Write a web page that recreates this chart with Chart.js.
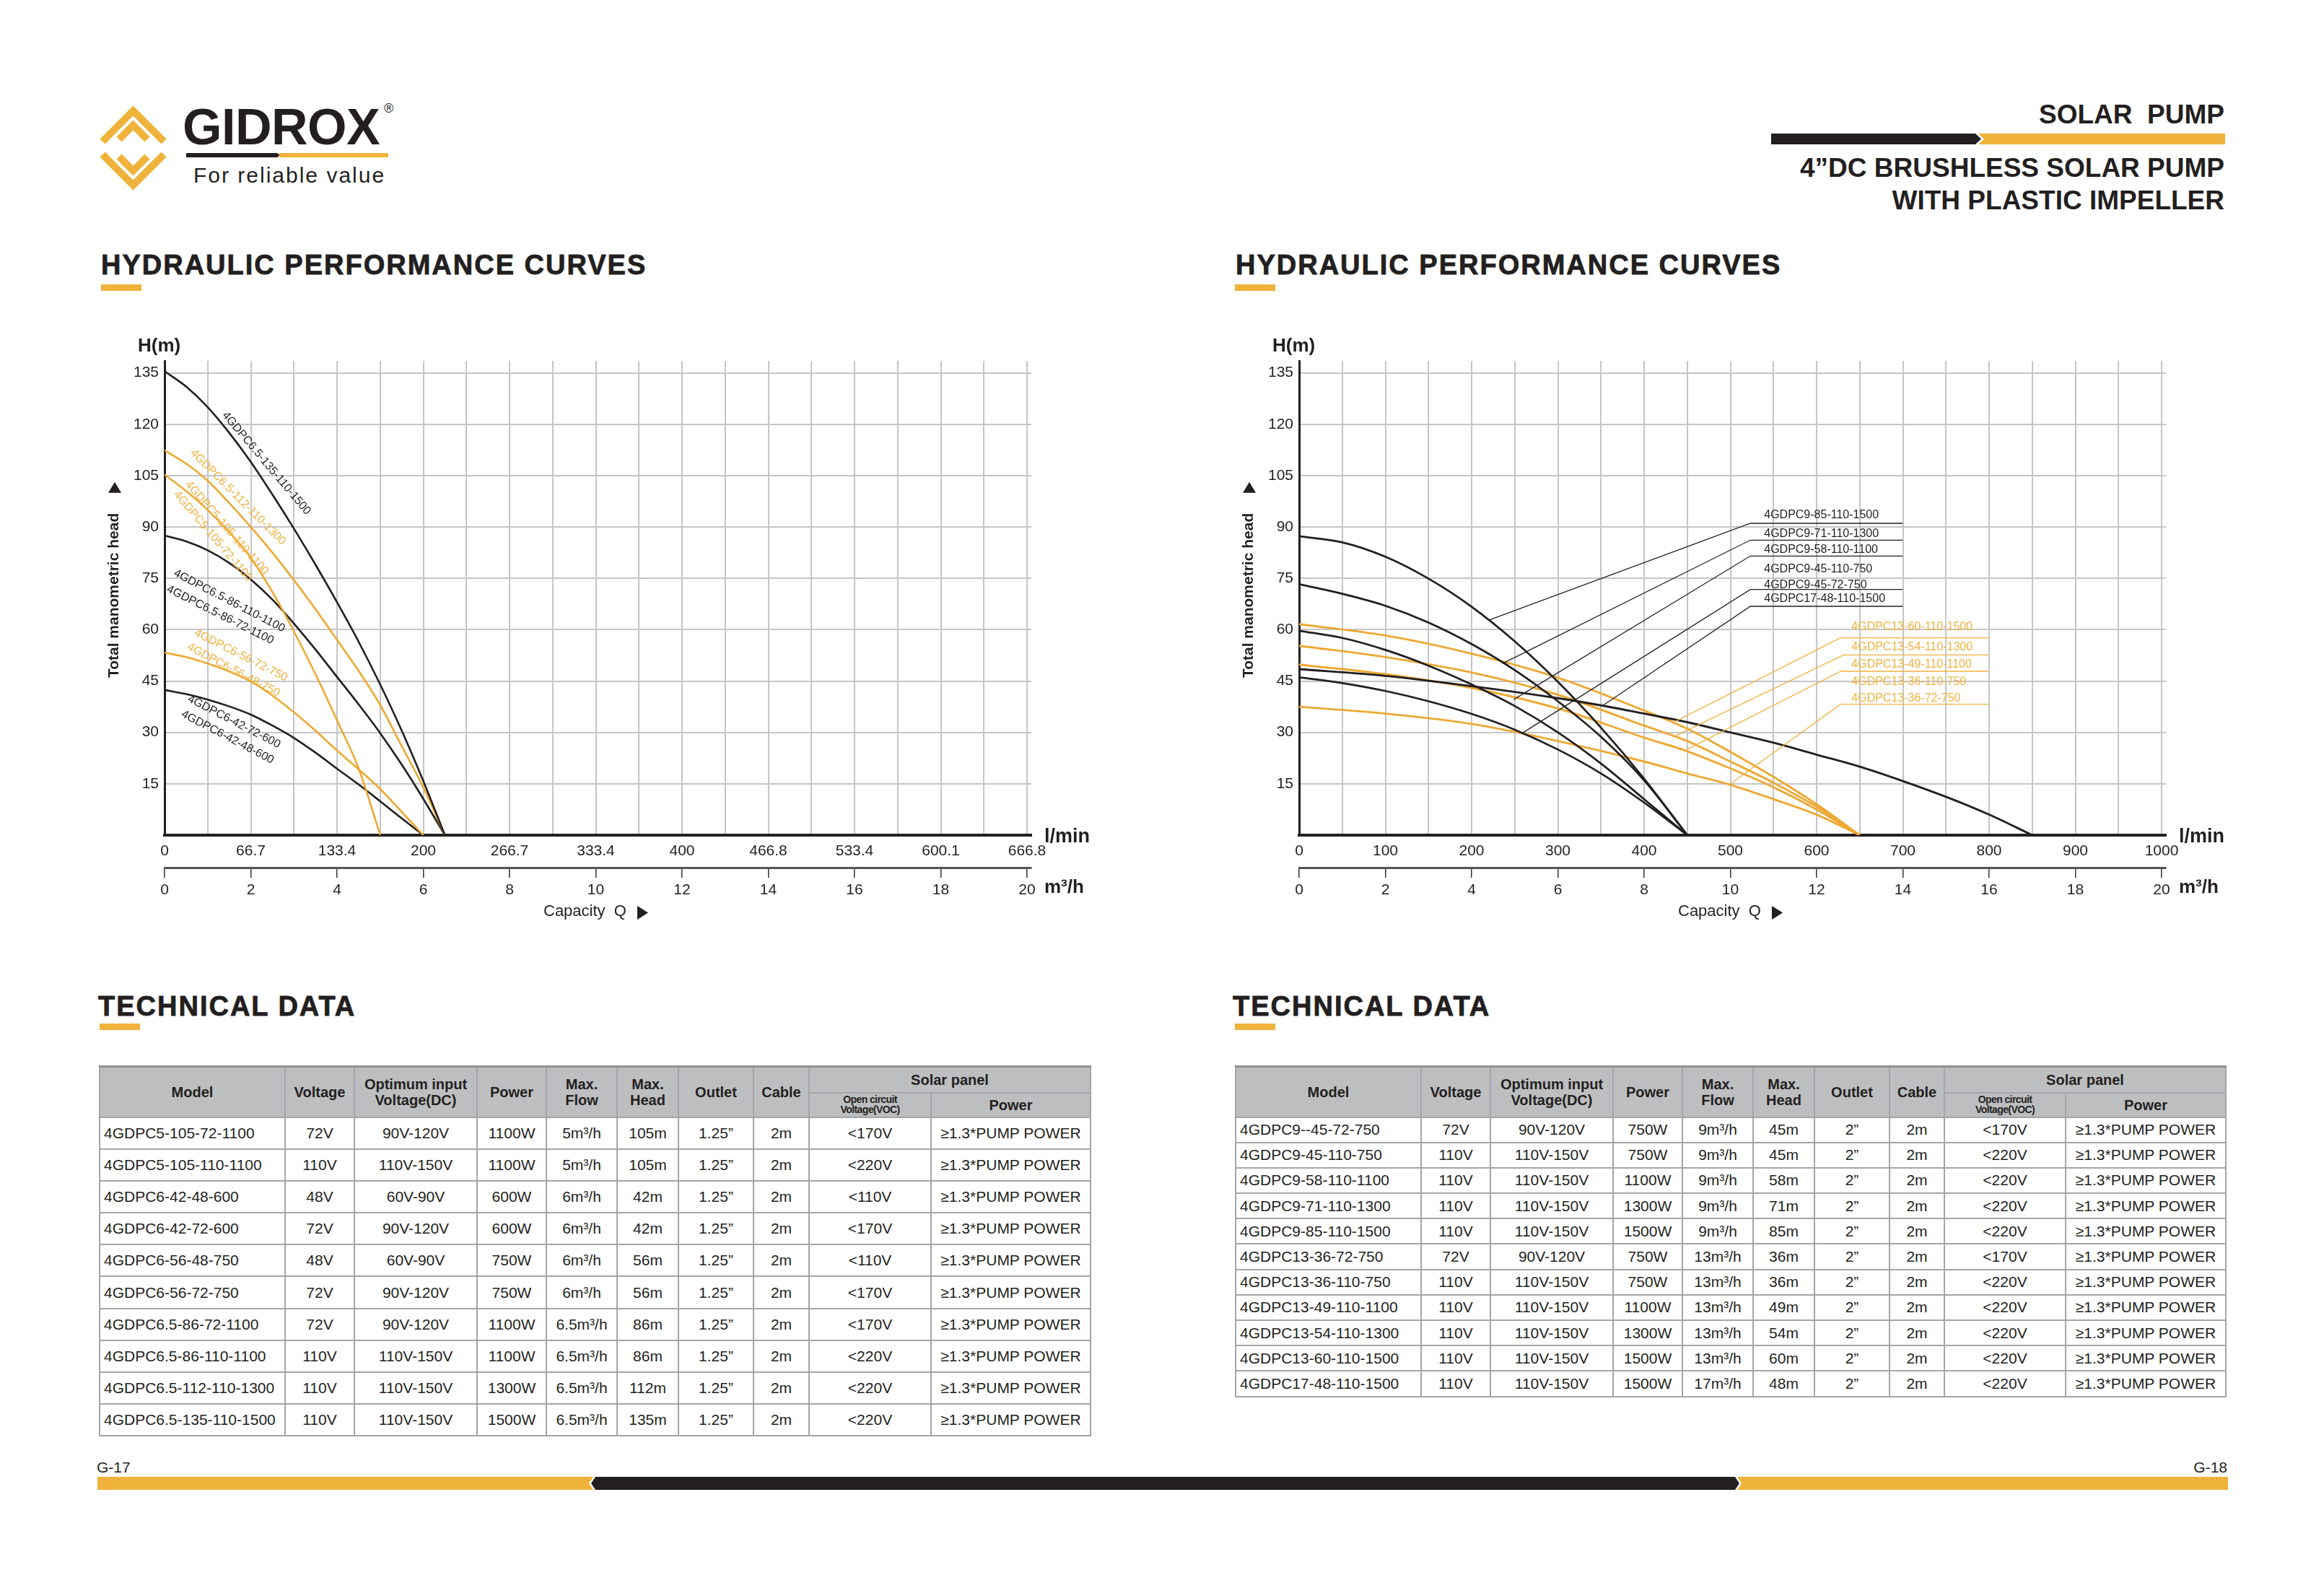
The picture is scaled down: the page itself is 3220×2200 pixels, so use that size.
<!DOCTYPE html>
<html><head><meta charset="utf-8">
<script src="https://cdn.jsdelivr.net/npm/chart.js@4.4.1/dist/chart.umd.min.js"></script>
<style>
html,body{margin:0;padding:0;background:#fff;}
body{width:3220px;height:2200px;position:relative;overflow:hidden;font-family:'Liberation Sans',Arial,Helvetica,sans-serif;color:#231F20;}
.t{position:absolute;white-space:pre;line-height:1;}
.b{font-weight:bold;}
.ttl{font-size:38px;font-weight:bold;letter-spacing:2px;-webkit-text-stroke:0.8px #231F20;}
.bar{position:absolute;background:#EFB23A;}
canvas{position:absolute;}
table.td{position:absolute;border-collapse:collapse;table-layout:fixed;font-size:21px;color:#231F20;border-top:3px solid #8E9093;}
table.td th{background:#BDBEC0;font-weight:bold;font-size:20px;border:2px solid #A3A5A8;padding:0;line-height:1.1;text-align:center;}
table.td th.sm{font-size:14px;line-height:0.95;letter-spacing:-0.6px;}
table.td td{border:2px solid #A3A5A8;text-align:center;padding:0;white-space:nowrap;overflow:hidden;}
table.td td.m{text-align:left;padding-left:5px;}
</style></head><body>

<!-- logo -->
<svg style="position:absolute;left:130px;top:140px" width="110" height="130" viewBox="130 140 110 130">
 <g fill="none" stroke="#EFB23A" stroke-width="10" stroke-linejoin="miter">
  <polyline points="142,196 184.5,153.5 227,196"/>
  <polyline points="142,214 184.5,256.5 227,214"/>
  <polyline points="165,193 184.5,173.5 204,193"/>
  <polyline points="165,217 184.5,236.5 204,217"/>
 </g>
</svg>
<div class="t b" style="left:253px;top:140.7px;font-size:70px;letter-spacing:-0.5px;">GIDROX</div>
<div class="t" style="left:532px;top:141px;font-size:18px;">®</div>
<div style="position:absolute;left:258px;top:212px;width:130px;height:6px;background:#231F20;clip-path:polygon(0 0,calc(100% - 4px) 0,100% 50%,calc(100% - 4px) 100%,0 100%);"></div>
<div class="bar" style="left:387px;top:212px;width:151px;height:6px;"></div>
<div class="t" style="left:268px;top:227.6px;font-size:30px;letter-spacing:2px;">For reliable value</div>

<!-- header right -->
<div class="t b" style="right:138px;top:140.4px;font-size:37px;">SOLAR  PUMP</div>
<div style="position:absolute;left:2454px;top:185px;width:291px;height:15px;background:#231F20;clip-path:polygon(0 0,calc(100% - 8px) 0,100% 50%,calc(100% - 8px) 100%,0 100%);"></div>
<div class="bar" style="left:2741px;top:185px;width:342px;height:15px;clip-path:polygon(0 0,100% 0,100% 100%,0 100%,8px 50%);"></div>
<div class="t b" style="right:138px;top:213.7px;font-size:37px;">4”DC BRUSHLESS SOLAR PUMP</div>
<div class="t b" style="right:138px;top:258.7px;font-size:37px;">WITH PLASTIC IMPELLER</div>

<!-- section titles -->
<div class="t ttl" style="left:140px;top:347.8px;">HYDRAULIC PERFORMANCE CURVES</div>
<div class="bar" style="left:140px;top:394px;width:56px;height:9px;"></div>
<div class="t ttl" style="left:1712px;top:347.8px;">HYDRAULIC PERFORMANCE CURVES</div>
<div class="bar" style="left:1711px;top:394px;width:56px;height:9px;"></div>

<div class="t ttl" style="left:136px;top:1374.8px;">TECHNICAL DATA</div>
<div class="bar" style="left:138px;top:1418px;width:56px;height:9px;"></div>
<div class="t ttl" style="left:1708px;top:1374.8px;">TECHNICAL DATA</div>
<div class="bar" style="left:1711px;top:1418px;width:56px;height:9px;"></div>

<canvas id="cl" width="1420" height="860" style="left:130px;top:440px;width:1420px;height:860px;"></canvas>
<canvas id="cr" width="1420" height="860" style="left:1702px;top:440px;width:1420px;height:860px;"></canvas>

<table class="td" id="tl" style="left:137px;top:1476px;width:1373px;"></table>
<table class="td" id="tr" style="left:1711px;top:1476px;width:1372px;"></table>

<!-- footer -->
<div class="t" style="left:134px;top:2022.2px;font-size:21px;">G-17</div>
<div class="t" style="right:134px;top:2022.2px;font-size:21px;">G-18</div>
<div class="bar" style="left:135px;top:2046px;width:687px;height:18px;clip-path:polygon(0 0,100% 0,calc(100% - 6px) 50%,100% 100%,0 100%);"></div>
<div style="position:absolute;left:819px;top:2046px;width:1591px;height:18px;background:#231F20;clip-path:polygon(6px 0,calc(100% - 6px) 0,100% 50%,calc(100% - 6px) 100%,6px 100%,0 50%);"></div>
<div class="bar" style="left:2407px;top:2046px;width:680px;height:18px;clip-path:polygon(0 0,100% 0,100% 100%,0 100%,6px 50%);"></div>

<script>
// ---------------- DATA ----------------
// Left chart: capacity in m3/h, head in m
const L_Q_65 = [0,0.5,1,1.5,2,2.5,3,3.5,4,4.5,5,5.5,6,6.5];
const L_H_135 = [135.5,131,125,117.5,109,99.5,89.5,79,68,56.5,44,30.5,15.8,0];
const L_H_112 = [112.4,108.5,103.5,97,90,82.5,74.5,66,57,48,38,26,14,0];
const L_H_86  = [87.5,85.8,83.2,79.5,74.7,68.8,61.8,54.2,46.2,38.2,29.8,20.6,10.6,0];
const L_Q_5 = [0,0.5,1,1.5,2,2.5,3,3.5,4,4.5,5];
const L_H_105 = [105.3,100.5,95,88.5,81,71,59.5,47,33.5,19.5,0];
const L_Q_6 = [0,0.5,1,1.5,2,2.5,3,3.5,4,4.5,5,5.5,6];
const L_H_56 = [53.3,52,50.1,47.8,44.9,40.8,35.9,30.5,24.7,19.2,13.5,6.8,0];
const L_H_42 = [42.4,41.2,39.6,37.6,35.2,32,28.4,24.1,19.4,14.8,9.9,4.9,0];

// Right chart: capacity in l/min, head in m
const R_Q_9 = [0,50,100,150,200,250,300,350,400,450];
const R_H_9_85 = [87.3,85.5,81.3,74.9,66.7,56.6,44.8,31.4,16.5,0];
const R_H_9_71 = [73.3,70.5,67,62.1,55.8,48.2,39.1,28.7,16,0];
const R_H_9_58 = [59.7,57.6,54.1,49.5,44,37.7,30,20.9,10.5,0];
const R_H_9_45 = [46.1,44.4,42.1,39.1,35.4,30.8,25,18,9.5,0];
const R_Q_17 = [0,100,200,300,350,400,450,500,550,600,650,700,750,800,850];
const R_H_17_48 = [48.5,46.5,43.5,40,37.9,35.5,33,30,27,23.5,20,15.8,11.2,6,0];
const R_Q_13 = [0,100,200,300,400,450,500,550,600,650];
const R_H_13_60 = [61.6,58.3,53,46,36.4,31.1,24.3,17,9,0];
const R_H_13_54 = [55.3,52,47.5,41,32,27.5,21.5,15.3,8.3,0];
const R_H_13_49 = [49.8,47,43,37,28.5,24.5,19.5,14,7.5,0];
const R_H_13_36 = [37.5,35.5,32.5,27.5,21.5,18,14.7,10.5,6,0];

// Tick labels
const HEAD_TICKS = [15,30,45,60,75,90,105,120,135];
const LEFT_FLOW_LABELS = ['0','66.7','133.4','200','266.7','333.4','400','466.8','533.4','600.1','666.8'];
const RIGHT_FLOW_LABELS = ['0','100','200','300','400','500','600','700','800','900','1000'];
const M3H_LABELS = ['0','2','4','6','8','10','12','14','16','18','20'];

// Model names
const LEFT_MODELS = ['4GDPC6.5-135-110-1500','4GDPC6.5-112-110-1300','4GDPC5-105-110-1100','4GDPC5-105-72-1100',
  '4GDPC6.5-86-110-1100','4GDPC6.5-86-72-1100','4GDPC6-56-72-750','4GDPC6-56-48-750','4GDPC6-42-72-600','4GDPC6-42-48-600'];
const RIGHT_BLACK_MODELS = ['4GDPC9-85-110-1500','4GDPC9-71-110-1300','4GDPC9-58-110-1100','4GDPC9-45-110-750','4GDPC9-45-72-750','4GDPC17-48-110-1500'];
const RIGHT_ORANGE_MODELS = ['4GDPC13-60-110-1500','4GDPC13-54-110-1300','4GDPC13-49-110-1100','4GDPC13-36-110-750','4GDPC13-36-72-750'];

// Technical data tables
const TL_ROWS = [
 ['4GDPC5-105-72-1100','72V','90V-120V','1100W','5m³/h','105m','1.25”','2m','<170V','≥1.3*PUMP POWER'],
 ['4GDPC5-105-110-1100','110V','110V-150V','1100W','5m³/h','105m','1.25”','2m','<220V','≥1.3*PUMP POWER'],
 ['4GDPC6-42-48-600','48V','60V-90V','600W','6m³/h','42m','1.25”','2m','<110V','≥1.3*PUMP POWER'],
 ['4GDPC6-42-72-600','72V','90V-120V','600W','6m³/h','42m','1.25”','2m','<170V','≥1.3*PUMP POWER'],
 ['4GDPC6-56-48-750','48V','60V-90V','750W','6m³/h','56m','1.25”','2m','<110V','≥1.3*PUMP POWER'],
 ['4GDPC6-56-72-750','72V','90V-120V','750W','6m³/h','56m','1.25”','2m','<170V','≥1.3*PUMP POWER'],
 ['4GDPC6.5-86-72-1100','72V','90V-120V','1100W','6.5m³/h','86m','1.25”','2m','<170V','≥1.3*PUMP POWER'],
 ['4GDPC6.5-86-110-1100','110V','110V-150V','1100W','6.5m³/h','86m','1.25”','2m','<220V','≥1.3*PUMP POWER'],
 ['4GDPC6.5-112-110-1300','110V','110V-150V','1300W','6.5m³/h','112m','1.25”','2m','<220V','≥1.3*PUMP POWER'],
 ['4GDPC6.5-135-110-1500','110V','110V-150V','1500W','6.5m³/h','135m','1.25”','2m','<220V','≥1.3*PUMP POWER']];
const TR_ROWS = [
 ['4GDPC9--45-72-750','72V','90V-120V','750W','9m³/h','45m','2”','2m','<170V','≥1.3*PUMP POWER'],
 ['4GDPC9-45-110-750','110V','110V-150V','750W','9m³/h','45m','2”','2m','<220V','≥1.3*PUMP POWER'],
 ['4GDPC9-58-110-1100','110V','110V-150V','1100W','9m³/h','58m','2”','2m','<220V','≥1.3*PUMP POWER'],
 ['4GDPC9-71-110-1300','110V','110V-150V','1300W','9m³/h','71m','2”','2m','<220V','≥1.3*PUMP POWER'],
 ['4GDPC9-85-110-1500','110V','110V-150V','1500W','9m³/h','85m','2”','2m','<220V','≥1.3*PUMP POWER'],
 ['4GDPC13-36-72-750','72V','90V-120V','750W','13m³/h','36m','2”','2m','<170V','≥1.3*PUMP POWER'],
 ['4GDPC13-36-110-750','110V','110V-150V','750W','13m³/h','36m','2”','2m','<220V','≥1.3*PUMP POWER'],
 ['4GDPC13-49-110-1100','110V','110V-150V','1100W','13m³/h','49m','2”','2m','<220V','≥1.3*PUMP POWER'],
 ['4GDPC13-54-110-1300','110V','110V-150V','1300W','13m³/h','54m','2”','2m','<220V','≥1.3*PUMP POWER'],
 ['4GDPC13-60-110-1500','110V','110V-150V','1500W','13m³/h','60m','2”','2m','<220V','≥1.3*PUMP POWER'],
 ['4GDPC17-48-110-1500','110V','110V-150V','1500W','17m³/h','48m','2”','2m','<220V','≥1.3*PUMP POWER']];

// ---------------- STYLE ----------------
const INK = '#231F20', ORANGE = '#EDA933', LABEL_OR = '#EFB23F', GRID = '#C4C5C8';
const FONT = "'Liberation Sans', Arial, Helvetica, sans-serif";
Chart.defaults.font.family = FONT;
Chart.defaults.color = INK;

const pts = (q, h) => q.map((v, i) => ({x: v, y: h[i]}));
const curve = (q, h, color, w) => ({data: pts(q, h), borderColor: color, borderWidth: w, pointRadius: 0,
  fill: false, cubicInterpolationMode: 'monotone', xAxisID: 'x', yAxisID: 'y'});

// annotation layout (data-space anchors for labels)
const LEFT_LABEL_LAYOUT = [
 {x:2.36,y:108.6,a:49.8,c:INK},{x:1.70,y:98.7,a:45.1,c:LABEL_OR},{x:1.44,y:89.7,a:49,c:LABEL_OR},{x:1.12,y:87.3,a:49.5,c:LABEL_OR},
 {x:1.50,y:68.4,a:27.4,c:INK},{x:1.29,y:64.3,a:26.6,c:INK},{x:1.77,y:52.5,a:26.9,c:LABEL_OR},{x:1.60,y:48.2,a:27.6,c:LABEL_OR},
 {x:1.61,y:33.1,a:27.3,c:INK},{x:1.46,y:28.6,a:27.6,c:INK}];
const RB_TEXT_Y = [92.48,87.06,82.43,76.67,72.10,68.09];
const RO_TEXT_Y = [59.81,53.97,48.91,43.78,38.94];
const RB_LEADERS = [[220,62.8,91.07],[235.6,50.1,86.16],[248.8,39.6,81.52],[258.7,29.8,71.74],[352.3,37.9,66.83]];
const RO_LEADERS = [[433,32.8,57.61,627.8],[435.8,28.9,52.64,631.2],[449.5,25,47.85,627.8],[499,14.8,38.22,627.8]];

const decor = {
  id: 'decor',
  afterDatasetsDraw(chart, args, o) {
    const ctx = chart.ctx, xs = chart.scales.x, ys = chart.scales.y;
    ctx.save();
    (o.leaders || []).forEach(L => {
      ctx.beginPath(); ctx.strokeStyle = L.color; ctx.lineWidth = 1.3;
      L.pts.forEach((p, i) => { const X = xs.getPixelForValue(p[0]), Y = ys.getPixelForValue(p[1]); i ? ctx.lineTo(X, Y) : ctx.moveTo(X, Y); });
      ctx.stroke();
    });
    ctx.font = '16px ' + FONT; ctx.textAlign = 'left'; ctx.textBaseline = 'alphabetic';
    (o.flat || []).forEach(t => { ctx.fillStyle = t.color; ctx.fillText(t.text, xs.getPixelForValue(t.x), ys.getPixelForValue(t.y)); });
    ctx.textAlign = 'center'; ctx.textBaseline = 'middle';
    (o.rotated || []).forEach(t => {
      ctx.save(); ctx.translate(xs.getPixelForValue(t.x), ys.getPixelForValue(t.y)); ctx.rotate(t.angle * Math.PI / 180);
      ctx.fillStyle = t.color; ctx.fillText(t.text, 0, 0); ctx.restore();
    });
    ctx.restore();
  },
  afterDraw(chart) {
    const ctx = chart.ctx, a = chart.chartArea, ys = chart.scales.y;
    ctx.save(); ctx.fillStyle = INK; ctx.textBaseline = 'alphabetic'; ctx.textAlign = 'left';
    ctx.font = 'bold 26px ' + FONT; ctx.fillText('H(m)', a.left - 37, a.top - 13);
    ctx.font = 'bold 27px ' + FONT; ctx.fillText('l/min', a.right + 18, a.bottom + 10);
    ctx.font = 'bold 26px ' + FONT; ctx.fillText('m³/h', a.right + 18, a.bottom + 80);
    ctx.font = '22px ' + FONT; ctx.fillText('Capacity  Q', a.left + 525, a.bottom + 112);
    ctx.beginPath(); ctx.moveTo(a.left + 655, a.bottom + 98); ctx.lineTo(a.left + 670, a.bottom + 107.5); ctx.lineTo(a.left + 655, a.bottom + 117); ctx.closePath(); ctx.fill();
    ctx.save(); ctx.translate(a.left - 64, ys.getPixelForValue(70)); ctx.rotate(-Math.PI / 2);
    ctx.font = 'bold 21px ' + FONT; ctx.textAlign = 'center'; ctx.fillText('Total manometric head', 0, 0); ctx.restore();
    const ty = ys.getPixelForValue(100);
    ctx.beginPath(); ctx.moveTo(a.left - 78, ty); ctx.lineTo(a.left - 60, ty); ctx.lineTo(a.left - 69, ty - 15); ctx.closePath(); ctx.fill();
    ctx.restore();
  }
};

function scales(xMax, xStep, xLabel) {
  return {
    x: {type: 'linear', min: 0, max: xMax, position: 'bottom', weight: 0,
      afterBuildTicks: s => { const t = []; for (let i = 0; i * xStep <= xMax - xStep * 0.05; i++) t.push({value: +(i * xStep).toFixed(4)}); s.ticks = t; },
      afterFit: s => { s.height = 45; },
      grid: {color: GRID, lineWidth: 2, drawTicks: false},
      border: {color: INK, width: 4},
      ticks: {padding: 10, font: {size: 21}, color: INK, maxRotation: 0, autoSkip: false, callback: xLabel}},
    x2: {type: 'linear', min: 0, max: 20.1, position: 'bottom', weight: 1,
      afterBuildTicks: s => { s.ticks = M3H_LABELS.map(v => ({value: +v})); },
      afterFit: s => { s.height = 60; },
      grid: {drawOnChartArea: false, drawTicks: true, tickLength: 14, color: '#333', lineWidth: 1.5},
      border: {color: '#555', width: 3},
      ticks: {padding: 5, font: {size: 21}, color: INK, maxRotation: 0, autoSkip: false, callback: (v, i) => M3H_LABELS[i]}},
    y: {type: 'linear', min: 0, max: 138.5, position: 'left',
      afterBuildTicks: s => { s.ticks = HEAD_TICKS.map(v => ({value: v})); },
      afterFit: s => { s.width = 98; },
      grid: {color: GRID, lineWidth: 2, drawTicks: false},
      border: {color: INK, width: 3},
      ticks: {padding: 8, font: {size: 21}, color: INK}}
  };
}
const baseOpts = (sc, decorOpts) => ({
  responsive: false, animation: false, devicePixelRatio: 1,
  layout: {padding: {top: 60, right: 121, bottom: 38, left: 0}},
  scales: sc,
  plugins: {legend: {display: false}, tooltip: {enabled: false}, decor: decorOpts}
});

// Left chart
new Chart(document.getElementById('cl'), {
  type: 'line',
  data: {datasets: [
    curve(L_Q_65, L_H_135, INK, 2.6),
    curve(L_Q_65, L_H_112, ORANGE, 2.6),
    curve(L_Q_5, L_H_105, ORANGE, 2.6),
    curve(L_Q_65, L_H_86, INK, 2.6),
    curve(L_Q_6, L_H_56, ORANGE, 2.6),
    curve(L_Q_6, L_H_42, INK, 2.6)]},
  options: baseOpts(scales(20.1, 1, v => (v % 2 === 0 ? LEFT_FLOW_LABELS[v / 2] : '')),
    {rotated: LEFT_MODELS.map((m, i) => ({text: m, x: LEFT_LABEL_LAYOUT[i].x, y: LEFT_LABEL_LAYOUT[i].y, angle: LEFT_LABEL_LAYOUT[i].a, color: LEFT_LABEL_LAYOUT[i].c}))}),
  plugins: [decor]
});

// Right chart
const rLeaders = RB_LEADERS.map(l => ({color: INK, pts: [[l[0], l[1]], [523.2, l[2]], [699.8, l[2]]]}))
  .concat(RO_LEADERS.map(l => ({color: LABEL_OR, pts: [[l[0], l[1]], [l[3], l[2]], [799.4, l[2]]]})));
const rFlat = RIGHT_BLACK_MODELS.map((m, i) => ({text: m, x: 539.1, y: RB_TEXT_Y[i], color: INK}))
  .concat(RIGHT_ORANGE_MODELS.map((m, i) => ({text: m, x: 640.4, y: RO_TEXT_Y[i], color: LABEL_OR})));
new Chart(document.getElementById('cr'), {
  type: 'line',
  data: {datasets: [
    curve(R_Q_9, R_H_9_85, INK, 2.7),
    curve(R_Q_9, R_H_9_71, INK, 2.7),
    curve(R_Q_9, R_H_9_58, INK, 2.7),
    curve(R_Q_9, R_H_9_45, INK, 2.7),
    curve(R_Q_17, R_H_17_48, INK, 2.9),
    curve(R_Q_13, R_H_13_60, ORANGE, 2.9),
    curve(R_Q_13, R_H_13_54, ORANGE, 2.9),
    curve(R_Q_13, R_H_13_49, ORANGE, 2.9),
    curve(R_Q_13, R_H_13_36, ORANGE, 2.9)]},
  options: baseOpts(scales(1005, 50, v => (v % 100 === 0 ? RIGHT_FLOW_LABELS[v / 100] : '')),
    {leaders: rLeaders, flat: rFlat}),
  plugins: [decor]
});

// Tables
function buildTable(id, rows, widths, rowH) {
  const t = document.getElementById(id);
  let h = '<colgroup>' + widths.map(w => `<col style="width:${w}px">`).join('') + '</colgroup>';
  h += `<tr style="height:36px"><th rowspan="2">Model</th><th rowspan="2">Voltage</th><th rowspan="2">Optimum input<br>Voltage(DC)</th>` +
       `<th rowspan="2">Power</th><th rowspan="2">Max.<br>Flow</th><th rowspan="2">Max.<br>Head</th><th rowspan="2">Outlet</th>` +
       `<th rowspan="2">Cable</th><th colspan="2">Solar panel</th></tr>`;
  h += `<tr style="height:34px"><th class="sm">Open circuit<br>Voltage(VOC)</th><th>Power</th></tr>`;
  rows.forEach(r => { h += `<tr style="height:${rowH}px">` + r.map((c, i) => `<td${i === 0 ? ' class="m"' : ''}>${c.replace('<', '&lt;')}</td>`).join('') + '</tr>'; });
  t.innerHTML = h;
}
buildTable('tl', TL_ROWS, [257, 96, 170, 96, 98, 85, 104, 77, 169, 221], 44.2);
buildTable('tr', TR_ROWS, [257, 96, 170, 96, 98, 85, 104, 76, 168, 222], 35.2);
</script>
</body></html>
